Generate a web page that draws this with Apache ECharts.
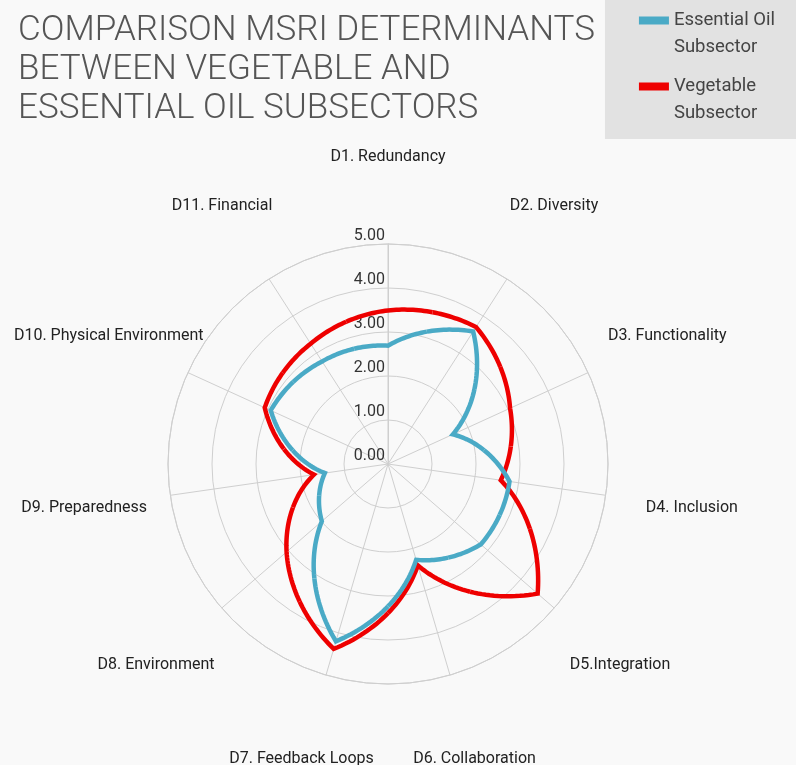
<!DOCTYPE html>
<html>
<head>
<meta charset="utf-8">
<script src="https://cdn.jsdelivr.net/npm/echarts@6/dist/echarts.min.js"></script>
<style>html,body{margin:0;padding:0;background:#f9f9f9;}#c{width:796px;height:765px;}</style>
</head>
<body>
<div id="c"></div>
<script>
const categories = ['D1. Redundancy','D2. Diversity','D3. Functionality','D4. Inclusion','D5.Integration','D6. Collaboration','D7. Feedback Loops','D8. Environment','D9. Preparedness','D10. Physical Environment','D11. Financial'];
const essentialOil = [2.69, 3.58, 1.62, 2.79, 2.79, 2.27, 4.20, 1.99, 1.45, 2.93, 2.77];
const vegetable = [3.49, 3.70, 3.05, 2.59, 4.50, 2.40, 4.38, 3.05, 1.70, 3.08, 3.25];
const radiusTicks = [0, 1, 2, 3, 4, 5];
const seriesNames = ['Essential Oil\nSubsector', 'Vegetable\nSubsector'];

const chart = echarts.init(document.getElementById('c'));
const n = categories.length;
const R = 220;            // polar radius in px
const labelCenterR = 307; // where label centres sit
const anchorR = 190;      // where echarts anchors the label (R + margin)
const labelFont = { fontFamily: 'Roboto', fontSize: 16, color: '#222' };

// Build per-label padding so every label ends up centred on the label circle
const cnv = document.createElement('canvas').getContext('2d');
cnv.font = '16px Roboto';
const rich = {};
categories.forEach(function (name, k) {
  const th = k * 2 * Math.PI / n;
  const s = Math.sin(th), c = Math.cos(th);
  const W = cnv.measureText(name).width;
  const H = 16;
  const D = labelCenterR - anchorR;
  let pl = 0, pr = 0, pt = 0, pb = 0;
  if (Math.abs(anchorR * s) / R < 0.3) {
    const d = 2 * D * s; pl = Math.max(d, 0); pr = Math.max(-d, 0);
  } else if (s > 0) { pl = D * s - W / 2; } else { pr = -D * s - W / 2; }
  if (Math.abs(anchorR * c) / R < 0.3) {
    const d = -2 * D * c; pt = Math.max(d, 0); pb = Math.max(-d, 0);
  } else if (c > 0) { pb = D * c - H / 2; } else { pt = -D * c - H / 2; }
  rich['k' + k] = Object.assign({ padding: [Math.max(pt, 0), Math.max(pr, 0), Math.max(pb, 0), Math.max(pl, 0)] }, labelFont);
});

function makeRender(vals, color) {
  return function (params, api) {
    const i = params.dataIndex;
    const pts = [];
    const steps = 16;
    const prev = (i - 1 + n) % n;
    const prevAngle = i === 0 ? n - 1 : i - 1;
    for (let s = 0; s <= steps; s++) {
      const t = 0.5 + 0.5 * s / steps;
      const r = vals[prev] + (vals[i] - vals[prev]) * t;
      pts.push(api.coord([r, prevAngle + t]));
    }
    const next = (i + 1) % n;
    for (let s = 1; s <= steps; s++) {
      const t = 0.5 * s / steps;
      const r = vals[i] + (vals[next] - vals[i]) * t;
      pts.push(api.coord([r, i + t]));
    }
    return {
      type: 'polyline',
      shape: { points: pts },
      style: { stroke: color, lineWidth: 4.5, fill: null, lineJoin: 'miter', lineCap: 'butt' }
    };
  };
}

const iconPath = 'path://M0,0.5h30v8h-30z M0,0h0.01v0.01h-0.01z M0,36h0.01v0.01h-0.01z';

chart.setOption({
  backgroundColor: '#f9f9f9',
  title: {
    text: 'COMPARISON MSRI DETERMINANTS\nBETWEEN VEGETABLE AND\nESSENTIAL OIL SUBSECTORS',
    left: 13, top: 7,
    textStyle: { fontFamily: 'Roboto', fontWeight: 300, fontSize: 35, lineHeight: 39, color: '#555' }
  },
  legend: {
    orient: 'vertical', right: 0, top: 0,
    padding: [7, 21, 12, 34],
    backgroundColor: '#e2e2e2',
    itemGap: 12, itemWidth: 30, itemHeight: 36,
    icon: iconPath,
    data: [seriesNames[0], seriesNames[1]],
    textStyle: { fontFamily: 'Roboto', fontSize: 18.5, lineHeight: 27, color: '#444' }
  },
  polar: { center: [388, 464], radius: R },
  angleAxis: {
    type: 'value', min: 0, max: n, interval: 1, startAngle: 90, clockwise: true,
    axisLine: { show: true, lineStyle: { color: '#cfcfcf', width: 1 } },
    axisTick: { show: false },
    splitLine: { show: true, lineStyle: { color: '#cfcfcf', width: 1 } },
    axisLabel: {
      margin: anchorR - R,
      fontFamily: 'Roboto', fontSize: 16, color: '#222',
      rich: rich,
      formatter: function (v) { const k = Math.round(v); return k < n ? '{k' + k + '|' + categories[k] + '}' : ''; }
    }
  },
  radiusAxis: {
    type: 'value', min: radiusTicks[0], max: radiusTicks[radiusTicks.length - 1], interval: 1,
    axisLine: { show: true, lineStyle: { color: '#cfcfcf', width: 1 } },
    axisTick: { show: false },
    splitLine: { show: true, lineStyle: { color: '#cfcfcf', width: 1 } },
    axisLabel: {
      margin: 3, verticalAlign: 'bottom',
      fontFamily: 'Roboto', fontSize: 16, color: '#333',
      formatter: function (v) { return v.toFixed(2); }
    }
  },
  series: [
    {
      name: seriesNames[1], type: 'custom', coordinateSystem: 'polar',
      itemStyle: { color: '#ee0000' },
      encode: { radius: 0, angle: 1 },
      data: vegetable.map((v, i) => [v, i]),
      renderItem: makeRender(vegetable, '#ee0000'), z: 2
    },
    {
      name: seriesNames[0], type: 'custom', coordinateSystem: 'polar',
      itemStyle: { color: '#4aaac6' },
      encode: { radius: 0, angle: 1 },
      data: essentialOil.map((v, i) => [v, i]),
      renderItem: makeRender(essentialOil, '#4aaac6'), z: 3
    }
  ]
});
</script>
</body>
</html>
